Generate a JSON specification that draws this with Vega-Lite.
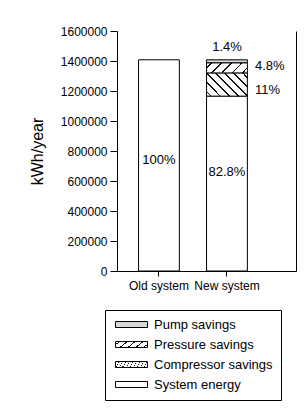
{
  "$schema": "https://vega.github.io/schema/vega-lite/v6.json",
  "width": 179,
  "height": 240,
  "autosize": {"type": "none"},
  "padding": {"left": 117, "top": 31, "right": 10, "bottom": 139},
  "background": "white",
  "config": {
    "font": "Liberation Sans",
    "view": {"stroke": null},
    "axis": {"domainColor": "black", "tickColor": "black", "labelColor": "black", "titleColor": "black", "labelFont": "Liberation Sans", "titleFont": "Liberation Sans", "grid": false}
  },
  "params": [
    {"name": "hatchPressure", "value": {"gradient": "linear", "x1": 0, "y1": 0, "x2": 1.174, "y2": 0.286, "stops": [
      {"offset": 0, "color": "white"},
      {"offset": 0.083, "color": "white"}, {"offset": 0.083, "color": "#111"}, {"offset": 0.117, "color": "#111"}, {"offset": 0.117, "color": "white"},
      {"offset": 0.283, "color": "white"}, {"offset": 0.283, "color": "#111"}, {"offset": 0.317, "color": "#111"}, {"offset": 0.317, "color": "white"},
      {"offset": 0.483, "color": "white"}, {"offset": 0.483, "color": "#111"}, {"offset": 0.517, "color": "#111"}, {"offset": 0.517, "color": "white"},
      {"offset": 0.683, "color": "white"}, {"offset": 0.683, "color": "#111"}, {"offset": 0.717, "color": "#111"}, {"offset": 0.717, "color": "white"},
      {"offset": 0.883, "color": "white"}, {"offset": 0.883, "color": "#111"}, {"offset": 0.917, "color": "#111"}, {"offset": 0.917, "color": "white"},
      {"offset": 1, "color": "white"}
    ]}},
    {"name": "hatchCompressor", "value": {"gradient": "linear", "x1": 0, "y1": 1, "x2": 1.187, "y2": 0.334, "stops": [
      {"offset": 0, "color": "white"},
      {"offset": 0.057, "color": "white"}, {"offset": 0.057, "color": "#111"}, {"offset": 0.085, "color": "#111"}, {"offset": 0.085, "color": "white"},
      {"offset": 0.2, "color": "white"}, {"offset": 0.2, "color": "#111"}, {"offset": 0.228, "color": "#111"}, {"offset": 0.228, "color": "white"},
      {"offset": 0.343, "color": "white"}, {"offset": 0.343, "color": "#111"}, {"offset": 0.371, "color": "#111"}, {"offset": 0.371, "color": "white"},
      {"offset": 0.486, "color": "white"}, {"offset": 0.486, "color": "#111"}, {"offset": 0.514, "color": "#111"}, {"offset": 0.514, "color": "white"},
      {"offset": 0.629, "color": "white"}, {"offset": 0.629, "color": "#111"}, {"offset": 0.657, "color": "#111"}, {"offset": 0.657, "color": "white"},
      {"offset": 0.772, "color": "white"}, {"offset": 0.772, "color": "#111"}, {"offset": 0.8, "color": "#111"}, {"offset": 0.8, "color": "white"},
      {"offset": 0.915, "color": "white"}, {"offset": 0.915, "color": "#111"}, {"offset": 0.943, "color": "#111"}, {"offset": 0.943, "color": "white"},
      {"offset": 1, "color": "white"}
    ]}},
    {"name": "hatchPressureKey", "value": {"gradient": "linear", "x1": 0, "y1": 0, "x2": 1.147, "y2": 0.215, "stops": [
      {"offset": 0, "color": "white"},
      {"offset": 0.105, "color": "white"}, {"offset": 0.105, "color": "#111"}, {"offset": 0.145, "color": "#111"}, {"offset": 0.145, "color": "white"},
      {"offset": 0.355, "color": "white"}, {"offset": 0.355, "color": "#111"}, {"offset": 0.395, "color": "#111"}, {"offset": 0.395, "color": "white"},
      {"offset": 0.605, "color": "white"}, {"offset": 0.605, "color": "#111"}, {"offset": 0.645, "color": "#111"}, {"offset": 0.645, "color": "white"},
      {"offset": 0.855, "color": "white"}, {"offset": 0.855, "color": "#111"}, {"offset": 0.895, "color": "#111"}, {"offset": 0.895, "color": "white"},
      {"offset": 1, "color": "white"}
    ]}},
    {"name": "hatchCompressorKey", "value": {"gradient": "linear", "x1": 0, "y1": 1, "x2": 1.147, "y2": 0.785, "stops": [
      {"offset": 0, "color": "white"},
      {"offset": 0.105, "color": "white"}, {"offset": 0.105, "color": "#111"}, {"offset": 0.145, "color": "#111"}, {"offset": 0.145, "color": "white"},
      {"offset": 0.355, "color": "white"}, {"offset": 0.355, "color": "#111"}, {"offset": 0.395, "color": "#111"}, {"offset": 0.395, "color": "white"},
      {"offset": 0.605, "color": "white"}, {"offset": 0.605, "color": "#111"}, {"offset": 0.645, "color": "#111"}, {"offset": 0.645, "color": "white"},
      {"offset": 0.855, "color": "white"}, {"offset": 0.855, "color": "#111"}, {"offset": 0.895, "color": "#111"}, {"offset": 0.895, "color": "white"},
      {"offset": 1, "color": "white"}
    ]}}
  ],
  "datasets": {
    "bars": [
      {"system": "Old system", "part": "System energy", "kwh": 1408000, "rank": 1},
      {"system": "New system", "part": "System energy", "kwh": 1165800, "rank": 1},
      {"system": "New system", "part": "Compressor savings", "kwh": 154900, "rank": 2},
      {"system": "New system", "part": "Pressure savings", "kwh": 67600, "rank": 3},
      {"system": "New system", "part": "Pump savings", "kwh": 19700, "rank": 4}
    ],
    "inside": [
      {"system": "Old system", "kwh": 740000, "label": "100%"},
      {"system": "New system", "kwh": 662000, "label": "82.8%"},
      {"system": "New system", "kwh": 1495000, "label": "1.4%"}
    ],
    "beside": [
      {"system": "New system", "kwh": 1369000, "label": "4.8%"},
      {"system": "New system", "kwh": 1207000, "label": "11%"}
    ]
  },
  "layer": [
    {
      "data": {"name": "bars"},
      "mark": {"type": "bar", "stroke": "black", "strokeWidth": 1},
      "encoding": {
        "x": {
          "field": "system", "type": "nominal", "sort": ["Old system", "New system"],
          "scale": {"paddingInner": 0.4, "paddingOuter": 0.516, "align": 0.307},
          "axis": {"title": null, "labelAngle": 0, "labelFontSize": 12, "tickSize": 5, "labelPadding": 4}
        },
        "y": {
          "field": "kwh", "type": "quantitative", "stack": "zero",
          "scale": {"domain": [0, 1600000], "nice": false},
          "axis": {"title": "kWh/year", "values": [0, 200000, 400000, 600000, 800000, 1000000, 1200000, 1400000, 1600000], "format": "d", "tickSize": 7, "labelPadding": 3, "labelFontSize": 12, "titleFontSize": 16, "titleFontWeight": "normal", "titlePadding": 15}
        },
        "fill": {
          "field": "part", "type": "nominal",
          "scale": {
            "domain": ["Pump savings", "Pressure savings", "Compressor savings", "System energy"],
            "range": ["#d6d6d6", {"expr": "hatchPressure"}, {"expr": "hatchCompressor"}, "white"]
          },
          "legend": {
            "orient": "none", "legendX": -12, "legendY": 279, "title": null,
            "strokeColor": "black", "fillColor": "white", "padding": 8,
            "symbolType": "M-1,-0.75H7V0.75H-1Z", "symbolSize": 64,
            "symbolStrokeColor": "black", "symbolStrokeWidth": 1,
            "labelFontSize": 13, "labelFont": "Liberation Sans", "labelColor": "black",
            "labelOffset": 28, "rowPadding": 6, "labelLimit": 0,
            "encode": {
              "symbols": {
                "update": {
                  "stroke": {"value": "black"},
                  "strokeWidth": {"value": 1},
                  "opacity": {"value": 1},
                  "fill": [
                    {"test": "datum.value === 'Pressure savings'", "signal": "hatchPressureKey"},
                    {"test": "datum.value === 'Compressor savings'", "signal": "hatchCompressorKey"},
                    {"test": "datum.value === 'Pump savings'", "value": "#d6d6d6"},
                    {"value": "white"}
                  ]
                }
              }
            }
          }
        },
        "order": {"field": "rank", "type": "quantitative"}
      }
    },
    {
      "data": {"name": "inside"},
      "mark": {"type": "text", "fontSize": 13, "font": "Liberation Sans", "color": "black"},
      "encoding": {
        "x": {"field": "system", "type": "nominal", "sort": ["Old system", "New system"]},
        "y": {"field": "kwh", "type": "quantitative", "stack": null, "axis": {"orient": "right", "labels": false, "ticks": false, "title": null, "domainColor": "black"}},
        "text": {"field": "label"}
      }
    },
    {
      "data": {"name": "beside"},
      "mark": {"type": "text", "fontSize": 13, "font": "Liberation Sans", "color": "black", "align": "left", "dx": 28},
      "encoding": {
        "x": {"field": "system", "type": "nominal", "sort": ["Old system", "New system"]},
        "y": {"field": "kwh", "type": "quantitative", "stack": null, "axis": null},
        "text": {"field": "label"}
      }
    }
  ],
  "resolve": {"axis": {"y": "independent"}}
}
